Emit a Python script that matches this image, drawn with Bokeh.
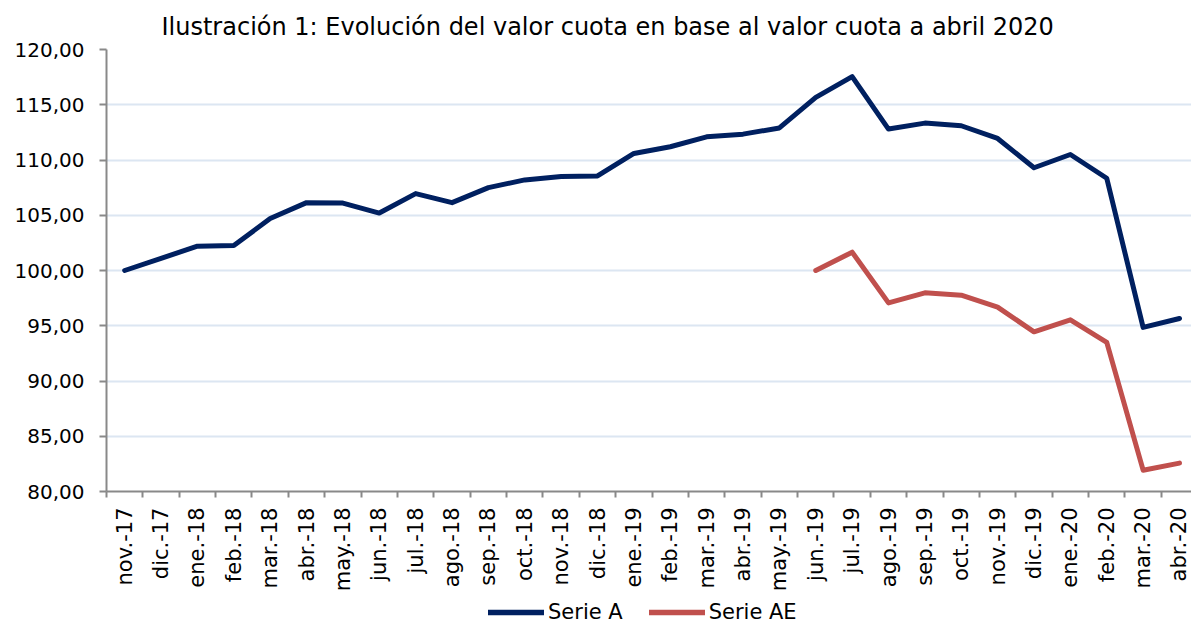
import math
from bokeh.plotting import figure
from bokeh.layouts import column
from bokeh.models import FixedTicker, Range1d, Legend, LegendItem
from bokeh.embed import file_html
from bokeh.resources import INLINE

months = ["nov.-17", "dic.-17", "ene.-18", "feb.-18", "mar.-18", "abr.-18", "may.-18",
          "jun.-18", "jul.-18", "ago.-18", "sep.-18", "oct.-18", "nov.-18", "dic.-18",
          "ene.-19", "feb.-19", "mar.-19", "abr.-19", "may.-19", "jun.-19", "jul.-19",
          "ago.-19", "sep.-19", "oct.-19", "nov.-19", "dic.-19", "ene.-20", "feb.-20",
          "mar.-20", "abr.-20"]

serie_a = [100.00, 101.10, 102.20, 102.27, 104.70, 106.14, 106.10, 105.20, 106.96, 106.14,
           107.50, 108.20, 108.50, 108.56, 110.59, 111.20, 112.10, 112.34, 112.90, 115.67,
           117.55, 112.80, 113.34, 113.10, 111.95, 109.30, 110.50, 108.35, 94.85, 95.66]

ae_months = months[19:]
serie_ae = [100.00, 101.66, 97.07, 97.98, 97.77, 96.68, 94.45, 95.54, 93.50, 81.93, 82.57]

series_names = ["Serie A", "Serie AE"]
y_ticks = [80, 85, 90, 95, 100, 105, 110, 115, 120]

FONT = "DejaVu Sans"
GRAY = "#898989"
BLUE = "#002060"
RED = "#C0504D"

xa = list(range(len(months)))
xae = [months.index(m) for m in ae_months]

p = figure(width=1191, height=595, output_backend="svg", toolbar_location=None,
           x_range=Range1d(-0.5, 29.33), y_range=Range1d(80, 120),
           min_border_left=106, min_border_right=0, min_border_top=49, min_border_bottom=104,
           title="Ilustración 1: Evolución del valor cuota en base al valor cuota a abril 2020")

p.title.text_font = FONT
p.title.text_font_size = "24px"
p.title.text_font_style = "normal"
p.title.text_color = "#000000"
p.title.align = "left"
p.title.offset = 55
p.title.standoff = 18

p.outline_line_color = None
p.background_fill_color = "white"
p.border_fill_color = "white"

p.line(xa, serie_a, line_color=BLUE, line_width=5, line_join="round", line_cap="round")
p.line(xae, serie_ae, line_color=RED, line_width=5, line_join="round", line_cap="round")

# y axis
p.yaxis.ticker = FixedTicker(ticks=y_ticks)
p.yaxis.major_label_overrides = {v: f"{v},00" for v in y_ticks}
p.yaxis.major_label_text_font = FONT
p.yaxis.major_label_text_font_size = "20px"
p.yaxis.major_label_text_color = "#000000"
p.yaxis.axis_line_color = GRAY
p.yaxis.axis_line_width = 2
p.yaxis.major_tick_line_color = GRAY
p.yaxis.major_tick_line_width = 2
p.yaxis.major_tick_out = 7
p.yaxis.major_tick_in = 0
p.yaxis.minor_tick_line_color = None
p.yaxis.major_label_standoff = 15

# x axis
p.xaxis.ticker = FixedTicker(ticks=xa, minor_ticks=[i - 0.5 for i in range(len(months) + 1)])
p.xaxis.major_label_overrides = {i: m for i, m in enumerate(months)}
p.xaxis.major_label_orientation = math.pi / 2
p.xaxis.major_label_text_font = FONT
p.xaxis.major_label_text_font_size = "21px"
p.xaxis.major_label_text_color = "#000000"
p.xaxis.axis_line_color = GRAY
p.xaxis.axis_line_width = 2
p.xaxis.major_tick_line_color = None
p.xaxis.major_tick_out = 0
p.xaxis.major_tick_in = 0
p.xaxis.minor_tick_line_color = GRAY
p.xaxis.minor_tick_line_width = 2
p.xaxis.minor_tick_out = 6
p.xaxis.minor_tick_in = 0
p.xaxis.major_label_standoff = 10

p.xgrid.visible = False
p.ygrid.grid_line_color = "#DCE6F2"
p.ygrid.grid_line_width = 2

# legend strip below the chart (helper renderers hold no data, only their style)
pl = figure(width=1191, height=29, output_backend="svg", toolbar_location=None,
            x_axis_type=None, y_axis_type=None,
            x_range=Range1d(0, 1), y_range=Range1d(0, 1),
            min_border_left=0, min_border_right=0, min_border_top=0, min_border_bottom=0)
pl.outline_line_color = None
pl.grid.visible = False
l1 = pl.line([math.nan], [math.nan], line_color=BLUE, line_width=5.5, line_cap="round")
l2 = pl.line([math.nan], [math.nan], line_color=RED, line_width=5.5, line_cap="round")
legend = Legend(items=[LegendItem(label=series_names[0], renderers=[l1]),
                       LegendItem(label=series_names[1], renderers=[l2])],
                orientation="horizontal", location=(382, 0),
                glyph_width=56, glyph_height=20, label_standoff=4, spacing=26,
                label_text_font=FONT, label_text_font_size="21px", label_text_color="#000000",
                border_line_color=None, background_fill_alpha=0, padding=0, margin=0)
pl.add_layout(legend, "center")

open("out.html", "w").write(file_html(column(p, pl, spacing=0), INLINE))
